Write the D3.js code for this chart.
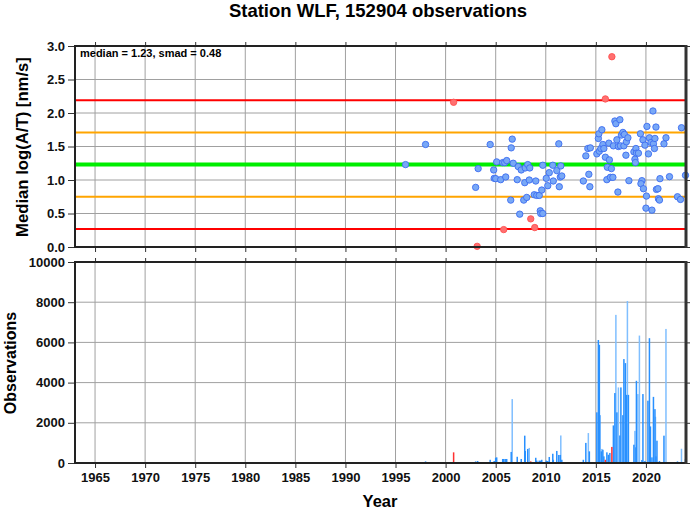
<!DOCTYPE html>
<html><head><meta charset="utf-8">
<script src="https://cdn.jsdelivr.net/npm/d3@7"></script>
<style>body{margin:0;background:#fff}svg{display:block;font-family:"Liberation Sans",Arial,sans-serif;font-weight:bold}</style>
</head><body><svg id="c" width="693" height="511"></svg>
<script>
const title = "Station WLF, 152904 observations";
const statsLabel = "median = 1.23, smad = 0.48";
const median = 1.23, smad = 0.48;
const yearTicks = [1965,1970,1975,1980,1985,1990,1995,2000,2005,2010,2015,2020];
const medTicks = [0,0.5,1,1.5,2,2.5,3];
const obsTicks = [0,2000,4000,6000,8000,10000];
// [year, median log(A/T)]
const points = [[1996.0,1.23],[1998.0,1.53],[2003.25,1.17],[2003.0,0.89],[2004.45,1.53],[2004.8,1.15],[2004.85,1.025],[2005.0,1.02],[2005.1,1.27],[2005.5,1.005],[2005.7,1.26],[2005.9,1.26],[2006.1,1.29],[2006.0,1.045],[2006.5,0.70],[2006.55,1.48],[2006.65,1.61],[2006.75,1.25],[2007.15,1.005],[2007.25,1.20],[2007.4,0.49],[2007.55,1.15],[2007.8,0.70],[2007.9,0.96],[2007.95,1.18],[2008.1,0.74],[2008.2,1.23],[2008.4,1.18],[2008.35,1.0],[2008.85,0.78],[2009.0,0.985],[2009.1,0.77],[2009.35,0.77],[2009.45,0.54],[2009.5,0.50],[2009.7,0.50],[2009.6,0.85],[2009.7,1.22],[2010.05,1.025],[2010.2,0.915],[2010.35,1.11],[2010.7,1.22],[2010.75,0.985],[2011.1,1.14],[2011.3,1.54],[2011.35,0.90],[2011.45,1.045],[2011.5,1.21],[2011.6,1.06],[2013.75,0.985],[2014.0,1.36],[2014.2,1.47],[2014.45,1.48],[2014.3,1.085],[2014.4,0.90],[2015.1,1.39],[2015.25,1.62],[2015.3,1.69],[2015.35,1.43],[2015.5,1.47],[2015.6,1.75],[2015.7,1.53],[2015.8,1.47],[2015.95,1.34],[2016.1,1.005],[2016.15,1.19],[2016.3,1.55],[2016.35,1.30],[2016.45,1.04],[2016.7,1.04],[2016.55,1.17],[2016.75,1.51],[2016.9,1.88],[2017.0,1.84],[2017.1,1.60],[2017.2,0.82],[2017.25,1.50],[2017.45,1.51],[2017.4,1.90],[2017.55,1.67],[2017.7,1.71],[2017.85,1.68],[2017.8,1.51],[2018.0,1.37],[2018.05,1.57],[2018.2,1.63],[2018.3,0.99],[2018.8,1.42],[2019.0,1.47],[2019.05,1.40],[2018.9,1.31],[2018.95,1.26],[2019.25,1.40],[2019.45,1.69],[2019.6,0.99],[2019.5,0.945],[2019.7,1.60],[2019.75,0.87],[2019.9,1.52],[2020.05,0.76],[2020.1,1.80],[2020.0,0.58],[2020.25,1.39],[2020.35,1.63],[2020.5,1.56],[2020.6,0.55],[2020.7,2.03],[2020.75,1.54],[2020.85,1.47],[2020.9,1.62],[2021.0,1.79],[2021.05,0.86],[2021.2,0.87],[2021.25,0.72],[2021.35,0.70],[2021.4,1.02],[2021.8,1.54],[2022.0,1.63],[2022.35,1.05],[2023.15,0.75],[2023.45,0.71],[2023.55,1.78],[2023.95,1.07]];
const outlierPoints = [[2000.8,2.16],[2003.15,0.01],[2005.8,0.26],[2008.5,0.42],[2008.9,0.29],[2015.95,2.21],[2016.6,2.84]];
// [year, observations]
const barsDark = [[1996.0,50],[1998.0,80],[2003.0,80],[2003.2,100],[2004.45,160],[2004.85,100],[2005.0,260],[2005.1,280],[2005.7,200],[2005.8,200],[2005.95,200],[2006.1,200],[2006.55,550],[2007.15,310],[2007.55,200],[2007.9,1360],[2007.95,600],[2008.2,700],[2008.85,50],[2009.0,260],[2009.1,120],[2009.35,120],[2009.5,120],[2009.6,160],[2010.05,120],[2010.2,100],[2010.35,300],[2010.7,460],[2010.75,160],[2011.1,600],[2011.3,400],[2011.45,400],[2011.6,160],[2013.75,160],[2014.0,1000],[2014.35,580],[2015.1,2520],[2015.25,6120],[2015.35,5880],[2015.4,2380],[2015.55,580],[2015.7,660],[2015.8,330],[2016.1,530],[2016.25,410],[2016.4,500],[2016.75,1870],[2016.9,3480],[2017.1,2520],[2017.4,1370],[2017.5,3760],[2017.7,2380],[2017.8,5170],[2017.95,4970],[2018.0,660],[2018.05,3390],[2018.25,3390],[2018.8,910],[2019.0,780],[2019.05,4090],[2019.6,150],[2019.7,3430],[2019.9,100],[2020.2,3100],[2020.35,6210],[2020.45,1820],[2020.6,280],[2020.75,3290],[2020.9,2680],[2021.0,330],[2021.1,1110],[2021.35,100],[2021.8,1360],[2022.35,40],[2023.15,80],[2023.95,200]];
const barsLight = [[2006.65,3180],[2008.35,750],[2011.5,1370],[2014.25,1490],[2015.6,700],[2017.0,7370],[2017.25,3760],[2018.15,8060],[2018.9,1600],[2019.2,3430],[2019.35,6340],[2020.95,2300],[2022.0,6670],[2023.55,710]];
const barsRed = [[2000.8,530],[2008.5,80],[2015.95,160],[2016.6,800]];

const svg = d3.select("#c");
const L = 75, R = 686;
const top1 = 46, bot1 = 247, top2 = 262, bot2 = 463;
const x = d3.scaleLinear().domain([1963,2024]).range([L,R]);
const y1 = d3.scaleLinear().domain([0,3]).range([bot1,top1]);
const y2 = d3.scaleLinear().domain([0,10000]).range([bot2,top2]);

svg.append("text").attr("x",378).attr("y",17).attr("text-anchor","middle").attr("font-size",18.5).text(title);

function panel(y, ticks, fmt, yTop, yBot){
  const g = svg.append("g");
  g.selectAll(".gx").data(yearTicks).join("line").attr("x1",d=>x(d)).attr("x2",d=>x(d)).attr("y1",yTop).attr("y2",yBot).attr("stroke","#a0a0a0").attr("stroke-width",1);
  g.selectAll(".gy").data(ticks).join("line").attr("x1",L).attr("x2",R).attr("y1",d=>y(d)).attr("y2",d=>y(d)).attr("stroke","#a0a0a0").attr("stroke-width",1);
  const ax = svg.append("g").attr("transform",`translate(${L},0)`).call(d3.axisLeft(y).tickValues(ticks).tickFormat(fmt).tickSize(7).tickPadding(3));
  const ar = svg.append("g").attr("transform",`translate(${R},0)`).call(d3.axisRight(y).tickValues(ticks).tickFormat("").tickSize(4));
  const at = svg.append("g").attr("transform",`translate(0,${yTop})`).call(d3.axisTop(x).tickValues(yearTicks).tickFormat("").tickSize(4));
  const ab = svg.append("g").attr("transform",`translate(0,${yBot})`).call(d3.axisBottom(x).tickValues(yearTicks).tickFormat(yBot===bot2?d3.format("d"):"").tickSize(5).tickPadding(5));
  [ax,ar,at,ab].forEach(a=>{a.select(".domain").remove();a.selectAll("line").attr("stroke","#333");a.selectAll("text").attr("font-size",13).attr("font-weight","bold").attr("fill","#111").attr("font-family","Liberation Sans, Arial, sans-serif");});
  return g;
}
function frame(yTop,yBot){
  svg.append("rect").attr("x",L).attr("y",yTop).attr("width",R-L).attr("height",yBot-yTop).attr("fill","none").attr("stroke","#222").attr("stroke-width",2);
  svg.append("line").attr("x1",R).attr("x2",R).attr("y1",yTop-1).attr("y2",yBot+1).attr("stroke","#333").attr("stroke-width",3);
}

// top panel
panel(y1, medTicks, d3.format(".1f"), top1, bot1);
const lines = [[median+2*smad,"#ff0000",2],[median-2*smad,"#ff0000",2],[median+smad,"#ffa500",2],[median-smad,"#ffa500",2],[median,"#00ee00",4]];
svg.append("g").selectAll("line").data(lines).join("line").attr("x1",L).attr("x2",R).attr("y1",d=>y1(d[0])).attr("y2",d=>y1(d[0])).attr("stroke",d=>d[1]).attr("stroke-width",d=>d[2]);
svg.append("g").selectAll("circle").data(points).join("circle").attr("cx",d=>x(d[0])).attr("cy",d=>y1(d[1])).attr("r",3.2).attr("fill","#78a8f6").attr("stroke","#3c6cf0").attr("stroke-width",0.9);
svg.append("g").selectAll("circle").data(outlierPoints).join("circle").attr("cx",d=>x(d[0])).attr("cy",d=>y1(d[1])).attr("r",3.2).attr("fill","#ff7070").attr("stroke","#ff5050").attr("stroke-width",0.9);
frame(top1,bot1);
svg.append("text").attr("x",80).attr("y",57).attr("font-size",11).text(statsLabel);

// bottom panel
panel(y2, obsTicks, d3.format("d"), top2, bot2);
const bw = x(2000.15)-x(2000);
function bars(data,color){
  svg.append("g").selectAll("rect").data(data).join("rect").attr("x",d=>x(d[0])-bw/2).attr("width",bw).attr("y",d=>y2(d[1])).attr("height",d=>y2(0)-y2(d[1])).attr("fill",color);
}
bars(barsLight,"#80bfff");
bars(barsDark,"#2890ff");
bars(barsRed,"#ff3030");
frame(top2,bot2);

// axis titles
svg.append("text").attr("transform","translate(28,147) rotate(-90)").attr("text-anchor","middle").attr("font-size",16.7).text("Median log(A/T) [nm/s]");
svg.append("text").attr("transform","translate(16,363) rotate(-90)").attr("text-anchor","middle").attr("font-size",16).text("Observations");
svg.append("text").attr("x",380).attr("y",507).attr("text-anchor","middle").attr("font-size",16.5).text("Year");
</script></body></html>
